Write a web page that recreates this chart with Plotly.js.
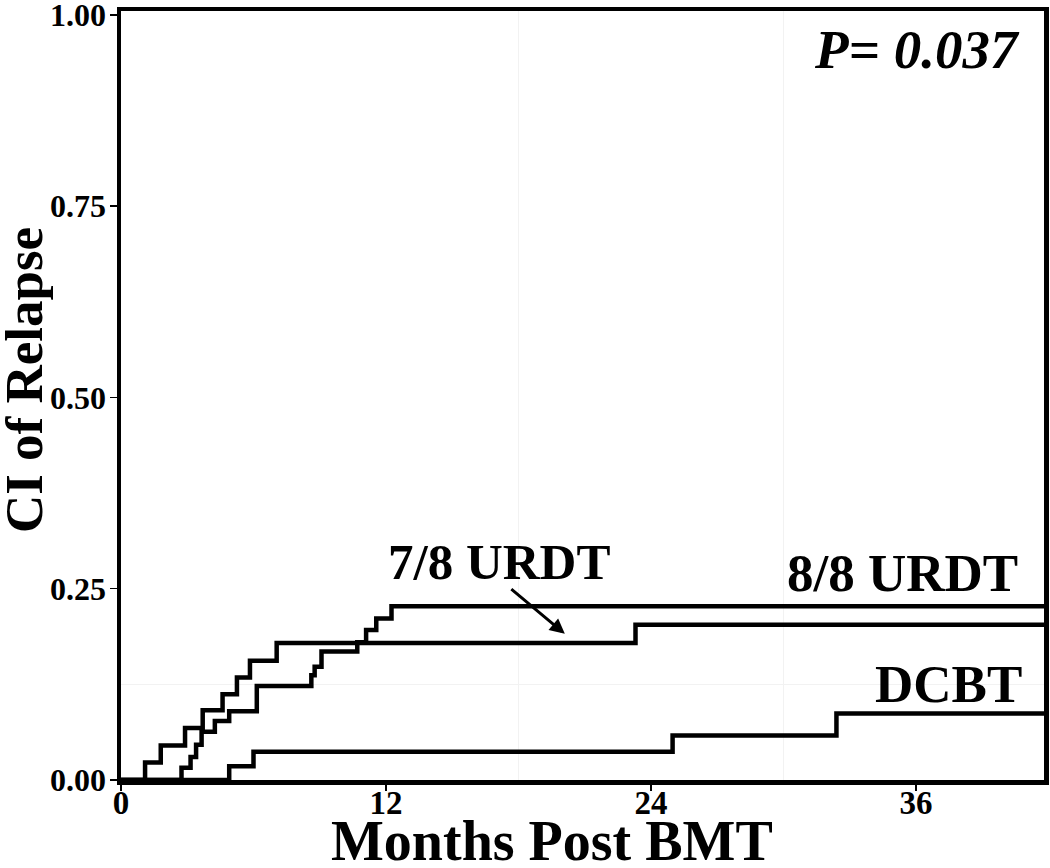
<!DOCTYPE html>
<html>
<head>
<meta charset="utf-8">
<script src="https://cdn.plot.ly/plotly-3.0.1.min.js"></script>
<style>
  body { margin: 0; background: #fff; }
  #chart { width: 1050px; height: 868px; }
</style>
</head>
<body>
<div id="chart"></div>
<script>
// months post BMT and cumulative incidence
var urdt78Months = [0, 1.09, 1.8, 2.9, 3.7, 4.6, 5.25, 5.84, 7.05, 23.3, 41.8];
var urdt78CI = [0, 0.023, 0.045, 0.068, 0.091, 0.112, 0.134, 0.156, 0.179, 0.203, 0.203];

var urdt88Months = [0, 2.74, 3.15, 3.4, 3.65, 4.25, 4.9, 6.15, 8.62, 8.77, 9.08, 10.7, 11.1, 11.56, 12.25, 41.8];
var urdt88CI = [0, 0.016, 0.030, 0.046, 0.063, 0.077, 0.090, 0.123, 0.137, 0.148, 0.168, 0.180, 0.196, 0.211, 0.227, 0.227];

var dcbtMonths = [0, 4.9, 6.0, 24.98, 32.4, 41.8];
var dcbtCI = [0, 0.018, 0.037, 0.058, 0.087, 0.087];

var xTicks = [0, 12, 24, 36];
var yTicks = [0, 0.25, 0.5, 0.75, 1];

var serif = "Liberation Serif, Times New Roman, serif";

function curve(x, y, name) {
  return {
    x: x,
    y: y,
    name: name,
    type: "scatter",
    mode: "lines",
    line: { shape: "hv", color: "#000", width: 4.5 },
    showlegend: false
  };
}

var data = [
  curve(urdt78Months, urdt78CI, "7/8 URDT"),
  curve(urdt88Months, urdt88CI, "8/8 URDT"),
  curve(dcbtMonths, dcbtCI, "DCBT")
];

var layout = {
  width: 1050,
  height: 868,
  margin: { l: 121, r: 6, t: 11, b: 88 },
  paper_bgcolor: "#fff",
  plot_bgcolor: "#fff",
  font: { family: serif, color: "#000" },
  xaxis: {
    range: [0, 41.8],
    tickvals: xTicks,
    ticks: "outside",
    ticklen: 6,
    tickwidth: 1.5,
    tickcolor: "#000",
    ticklabelstandoff: -16,
    tickfont: { family: serif, size: 33, weight: "bold" },
    showline: true,
    linewidth: 4.5,
    linecolor: "#000",
    mirror: true,
    showgrid: false,
    zeroline: false,
    minor: { tickvals: [18, 30], showgrid: true, gridcolor: "#f2f2f2", gridwidth: 1, ticklen: 0 }
  },
  yaxis: {
    range: [0, 1.005],
    tickvals: yTicks,
    tickformat: ".2f",
    ticks: "outside",
    ticklen: 7,
    tickwidth: 1.5,
    tickcolor: "#000",
    ticklabeloverflow: "allow",
    ticklabelstandoff: -3,
    tickfont: { family: serif, size: 32, weight: "bold" },
    showline: true,
    linewidth: 4.5,
    linecolor: "#000",
    mirror: true,
    showgrid: false,
    zeroline: false,
    minor: { tickvals: [0.125], showgrid: true, gridcolor: "#f2f2f2", gridwidth: 1, ticklen: 0 }
  },
  annotations: [
    // axis titles
    {
      xref: "paper", yref: "paper", x: 0.467, y: -0.079,
      xanchor: "center", yanchor: "middle",
      text: "<b>Months Post BMT</b>", showarrow: false,
      font: { family: serif, size: 56 }
    },
    {
      xref: "paper", yref: "paper", x: 0, y: 0.52, xshift: -97,
      xanchor: "center", yanchor: "middle", textangle: -90,
      text: "<b>CI of Relapse</b>", showarrow: false,
      font: { family: serif, size: 53 }
    },
    {
      x: 40.8, y: 0.955, xanchor: "right", yanchor: "middle",
      text: "<b><i>P= 0.037</i></b>", showarrow: false,
      font: { family: serif, size: 55 }
    },
    {
      x: 17.1, y: 0.285, xanchor: "center", yanchor: "middle",
      text: "<b>7/8 URDT</b>", showarrow: false,
      font: { family: serif, size: 51 }
    },
    {
      x: 40.7, y: 0.27, xanchor: "right", yanchor: "middle",
      text: "<b>8/8 URDT</b>", showarrow: false,
      font: { family: serif, size: 53 }
    },
    {
      x: 40.9, y: 0.125, xanchor: "right", yanchor: "middle",
      text: "<b>DCBT</b>", showarrow: false,
      font: { family: serif, size: 53 }
    },
    {
      x: 20.1, y: 0.191, text: "", showarrow: true,
      ax: -55, ay: -46, arrowhead: 2, arrowsize: 1, arrowwidth: 3, arrowcolor: "#000"
    }
  ]
};

Plotly.newPlot("chart", data, layout, { displayModeBar: false, staticPlot: true });
</script>
</body>
</html>
